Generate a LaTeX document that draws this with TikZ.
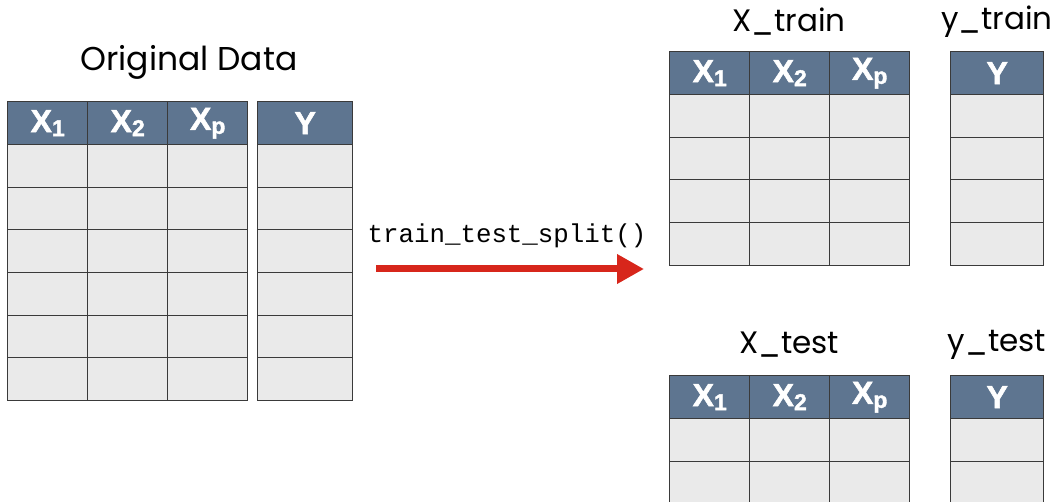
\documentclass[tikz,border=0pt]{standalone}
\usepackage{fontspec}
\setmainfont{Poppins}
\newfontfamily\hdrfont{Liberation Sans Bold}[FakeBold=1.6]
\newfontfamily\codefont{Liberation Mono}
\usetikzlibrary{arrows.meta}
\definecolor{hdrblue}{HTML}{5E7590}
\definecolor{cellgray}{HTML}{EAEAEA}
\definecolor{gridline}{HTML}{3A3A3A}
\definecolor{splitred}{HTML}{D7261B}

% header label: letter with a lowered subscript
\newcommand\hdrlab[2]{#1\raisebox{-4pt}{\fontsize{23}{23}\selectfont #2}}

\begin{document}
\begin{tikzpicture}[x=1pt,y=-1pt,
  hdrcell/.style={draw=gridline, line width=1.4pt, fill=hdrblue, text=white,
    font=\hdrfont\fontsize{32}{32}\selectfont, inner sep=0pt,
    anchor=north west, minimum width=80pt, minimum height=43pt},
  bodycell/.style={draw=gridline, line width=1.4pt, fill=cellgray, inner sep=0pt,
    anchor=north west, minimum width=80pt},
  title/.style={font=\fontsize{31}{31}\selectfont, text=black},
  codelabel/.style={font=\codefont\fontsize{25.8}{26}\selectfont, text=black},
  splitarrow/.style={draw=splitred, line width=7pt,
    -{Triangle[length=27pt,width=28pt]}}]

\clip (0,0) rectangle (1056,502);
\fill[white] (0,0) rectangle (1056,502);

% feature table: name, left x, top y, number of rows
% (row edges are rounded to whole points so all grid lines look alike)
\newcommand\featuretable[4]{%
  \node[hdrcell] (#1-h1) at (#2,#3) {\hdrlab{X}{1}};
  \node[hdrcell] (#1-h2) at (#2+80,#3) {\hdrlab{X}{2}};
  \node[hdrcell] (#1-h3) at (#2+160,#3) {\hdrlab{X}{p}};
  \foreach \r in {1,...,#4}{
    \pgfmathsetmacro\rowtop{round(#3+43+42.7*(\r-1))}
    \pgfmathsetmacro\rowhgt{round(#3+43+42.7*\r)-\rowtop}
    \foreach \c in {1,2,3}{
      \node[bodycell, minimum height=\rowhgt pt] (#1-\r-\c)
        at ({#2+80*(\c-1)},{\rowtop}) {};
    }
  }
}
% target table: name, left x, top y, number of rows, width
\newcommand\targettable[5]{%
  \node[hdrcell, minimum width=#5pt] (#1-h) at (#2,#3) {Y};
  \foreach \r in {1,...,#4}{
    \pgfmathsetmacro\rowtop{round(#3+43+42.7*(\r-1))}
    \pgfmathsetmacro\rowhgt{round(#3+43+42.7*\r)-\rowtop}
    \node[bodycell, minimum width=#5pt, minimum height=\rowhgt pt] (#1-\r)
      at ({#2},{\rowtop}) {};
  }
}

% original data
\featuretable{orig}{7}{101}{6}
\targettable{origy}{257}{101}{6}{95}
\node[title, font=\fontsize{33}{33}\selectfont] (origtitle) at (189,62) {Original Data};

% training split
\featuretable{xtr}{669}{51}{4}
\targettable{ytr}{950}{51}{4}{93}
\node[title] (xtrtitle) at (789,22) {X\_train};
\node[title] (ytrtitle) at (997,22) {y\_train};

% test split
\featuretable{xte}{669}{375}{3}
\targettable{yte}{950}{375}{3}{93}
\node[title] (xtetitle) at (789,345) {X\_test};
\node[title] (ytetitle) at (997,345) {y\_test};

% split arrow
\coordinate (arrstart) at (376,269);
\coordinate (arrend) at (644,269);
\draw[splitarrow] (arrstart) -- (arrend);
\node[codelabel] (splitlabel) at (507,236) {train\_test\_split()};
\end{tikzpicture}
\end{document}
